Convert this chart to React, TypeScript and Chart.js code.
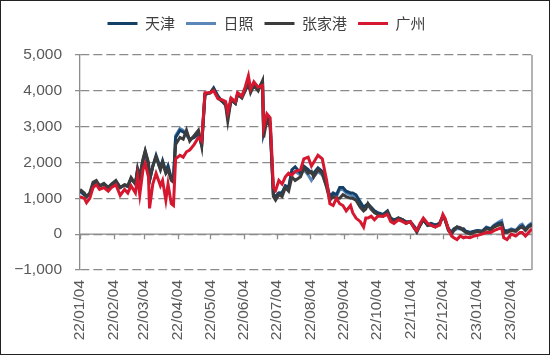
import React, { useEffect, useRef } from 'react';
import { Chart, registerables } from 'chart.js';

Chart.register(...registerables);

// x ticks: day offsets from 2022-01-04 and their labels
const tickDays = [0, 31, 59, 90, 120, 151, 181, 212, 243, 273, 304, 334, 365, 396];
const tickLabels = [
  '22/01/04', '22/02/04', '22/03/04', '22/04/04', '22/05/04', '22/06/04', '22/07/04',
  '22/08/04', '22/09/04', '22/10/04', '22/11/04', '22/12/04', '23/01/04', '23/02/04',
];
const yTicks = [-1000, 0, 1000, 2000, 3000, 4000, 5000];

const seriesNames = ['天津', '日照', '张家港', '广州'];
const seriesColors = ['#143f66', '#5a86ba', '#3c3c3c', '#d5182f'];

// day offsets (from 2022-01-04) of sampled points
const days = [
  0, 4, 6, 9, 12, 15, 18, 22, 26, 29, 33, 37, 41, 44, 47, 51, 53, 55, 58, 60,
  63, 64, 67, 70, 74, 76, 79, 81, 84, 86, 88, 92, 95, 98, 101, 105, 109, 112, 115, 120,
  123, 127, 131, 134, 136, 139, 143, 145, 149, 152, 155, 157, 160, 164, 168, 169, 172, 175, 178, 180,
  183, 186, 189, 192, 195, 198, 203, 206, 210, 213, 215, 219, 223, 227, 230, 233, 236, 239, 242, 245,
  249, 251, 254, 258, 261, 263, 265, 268, 271, 274, 279, 283, 286, 289, 293, 297, 300, 304, 308, 310,
  313, 316, 320, 323, 327, 331, 334, 336, 339, 342, 344, 347, 350, 353, 355, 359, 363, 366, 370, 374,
  378, 381, 385, 388, 390, 393, 397, 401, 405, 407, 410, 413, 416,
];

const tianjin = [
  1200, 1100, 1050, 1100, 1400, 1450, 1350, 1400, 1300, 1380, 1480, 1300, 1370, 1330, 1550, 1400, 1800, 1600, 2050, 2300,
  1950, 1500, 1900, 2200, 1850, 2050, 1750, 1900, 1550, 1500, 2700, 2900, 2850, 2800, 2650, 2700, 2800, 2500, 3900, 3950,
  4080, 3850, 3700, 3650, 3300, 3750, 3650, 3900, 3850, 4050, 4200, 4000, 4150, 4050, 4250, 2850, 3250, 3100, 1100, 1050,
  1150, 1150, 1350, 1300, 1800, 1880, 1700, 1900, 1800, 1700, 1700, 1850, 1750, 1400, 1050, 1150, 1100, 1300, 1300, 1200,
  1150, 1150, 1100, 900, 750, 800, 850, 750, 650, 600, 550, 650, 450, 400, 450, 400, 350, 350, 200, 100,
  250, 400, 250, 300, 250, 300, 500, 400, 150, 50, 150, 200, 150, 150, 80, 50, 80, 100, 80, 180,
  150, 230, 300, 320, 100, 80, 120, 100, 200, 230, 130, 230, 280,
];

const rizhao = [
  1200, 1100, 1050, 1100, 1400, 1450, 1330, 1400, 1300, 1380, 1470, 1300, 1370, 1330, 1550, 1400, 1780, 1600, 2050, 2250,
  1950, 1500, 1900, 2150, 1800, 2000, 1750, 1900, 1550, 1500, 2750, 2950, 2900, 2750, 2650, 2700, 2800, 2500, 3900, 3950,
  4050, 3850, 3700, 3650, 3300, 3750, 3650, 3900, 3850, 4000, 4200, 4000, 4150, 4050, 4250, 2850, 3250, 3100, 1100, 1050,
  1150, 1150, 1350, 1300, 1700, 1750, 1650, 1800, 1650, 1500, 1600, 1750, 1650, 1350, 1000, 1100, 1050, 1250, 1250, 1150,
  1100, 1050, 1050, 850, 700, 750, 800, 700, 600, 550, 550, 600, 400, 350, 450, 400, 320, 350, 200, 100,
  250, 400, 250, 300, 250, 300, 500, 400, 150, 50, 100, 150, 150, 100, 80, 50, 80, 100, 80, 200,
  150, 250, 330, 380, 100, 100, 150, 100, 250, 280, 150, 250, 320,
];

const zhangjiagang = [
  1250, 1150, 1050, 1150, 1450, 1500, 1350, 1420, 1300, 1400, 1500, 1300, 1380, 1350, 1580, 1400, 1830, 1600, 2100, 2330,
  2000, 1500, 1900, 2150, 1800, 2000, 1700, 1800, 1500, 1450, 2500, 2700, 2650, 2900, 2600, 2750, 2900, 2450, 3900, 3950,
  4050, 3800, 3700, 3600, 3150, 3750, 3650, 3900, 3800, 4000, 4200, 3950, 4150, 4000, 4280, 2700, 3200, 3000, 1050, 950,
  1100, 1050, 1300, 1200, 1600, 1500, 1600, 1850, 1700, 1750, 1600, 1800, 1700, 1300, 950, 1050, 1000, 1000, 1100, 1050,
  1000, 1000, 950, 750, 650, 700, 850, 700, 600, 550, 500, 620, 400, 350, 450, 400, 300, 350, 150, 50,
  250, 400, 250, 250, 200, 300, 500, 400, 100, 0, 100, 200, 180, 100, 50, 0, 50, 80, 50, 150,
  120, 200, 250, 280, 50, 50, 100, 80, 180, 200, 100, 200, 250,
];

const guangzhou = [
  1050, 1000, 880, 1000, 1300, 1380, 1250, 1300, 1200, 1300, 1380, 1080, 1250, 1150, 1350, 1150, 1600, 1100, 1800, 1970,
  1600, 720, 1400, 1700, 1350, 1500, 950, 1400, 850, 800, 2100, 2200, 2150, 2300, 2350, 2500, 2700, 2600, 3950, 3950,
  4000, 3780, 3750, 3700, 3400, 3800, 3700, 3950, 3850, 4100, 4420, 4050, 4250, 4100, 4150, 2970, 3360, 3250, 1300, 1220,
  1500, 1400, 1600, 1700, 1650, 1750, 1800, 2100, 2150, 1900, 2000, 2200, 2100, 1500, 850, 800, 1000, 850, 800, 650,
  800, 600, 450, 350, 200, 450, 450, 500, 400, 500, 500, 550, 350, 300, 400, 350, 300, 350, 150, 100,
  300, 450, 300, 250, 200, 250, 550, 440, 150, -50, -100, -150, -50, -100, -80, -100, -50, -30, 0, 50,
  50, 100, 150, 180, -100, -150, 0, -50, 50, 50, -50, 50, 150,
];

const seriesValues = [tianjin, rizhao, zhangjiagang, guangzhou];
const drawOrder = [3, 4, 2, 1];

const fmt = (v: number) => {
  const s = Math.abs(v).toLocaleString('en-US');
  return v < 0 ? '\u2212' + s : s;
};

const framePlugin = {
  id: 'frameLines',
  beforeDatasetsDraw(chart: any) {
    const { ctx, chartArea, scales } = chart;
    const x = scales.x;
    const y = scales.y;
    const y0 = y.getPixelForValue(0);
    ctx.save();
    ctx.strokeStyle = '#8c8c8c';
    ctx.lineWidth = 1.3;
    ctx.setLineDash([]);
    ctx.beginPath();
    ctx.moveTo(chartArea.left, y0);
    ctx.lineTo(chartArea.right, y0);
    x.ticks.forEach((t: any) => {
      const px = Math.round(x.getPixelForValue(t.value)) + 0.5;
      ctx.moveTo(px, y0);
      ctx.lineTo(px, y0 + 5);
    });
    ctx.moveTo(chartArea.right, chartArea.top);
    ctx.lineTo(chartArea.right, chartArea.bottom);
    ctx.stroke();
    ctx.restore();
  },
};

export default function App() {
  const ref = useRef<HTMLCanvasElement | null>(null);

  useEffect(() => {
    if (!ref.current) return;
    const chart = new Chart(ref.current, {
      type: 'line',
      data: {
        datasets: seriesNames.map((name, i) => ({
          label: name,
          data: days.map((d, j) => ({ x: d, y: seriesValues[i][j] })),
          borderColor: seriesColors[i],
          backgroundColor: seriesColors[i],
          borderWidth: 3,
          pointRadius: 0,
          tension: 0,
          order: drawOrder[i],
        })),
      },
      options: {
        animation: false,
        responsive: false,
        layout: { padding: { top: 4, right: 17, left: 0, bottom: 0 } },
        plugins: {
          tooltip: { enabled: false },
          title: {
            display: true,
            text: '',
            weight: 500,
            position: 'top',
            padding: { top: 13, bottom: 0 },
            font: { size: 1, lineHeight: 1 },
          },
          legend: {
            position: 'top',
            labels: {
              boxWidth: 30,
              boxHeight: 3,
              padding: 11,
              color: '#404040',
              font: { size: 15, family: '"Noto Sans CJK SC", "Noto Sans", sans-serif' },
              sort: (a: any, b: any) => a.datasetIndex - b.datasetIndex,
              generateLabels: (c: any) =>
                (Chart.defaults.plugins.legend.labels.generateLabels as any)(c).map((l: any) => ({
                  ...l,
                  lineWidth: 0,
                  fillStyle: seriesColors[l.datasetIndex],
                })),
            },
          },
        },
        scales: {
          x: {
            type: 'linear',
            min: 0,
            max: 416,
            afterBuildTicks: (scale: any) => {
              scale.ticks = tickDays.map((v) => ({ value: v }));
            },
            afterFit: (scale: any) => {
              scale.height = 84;
            },
            ticks: {
              autoSkip: false,
              minRotation: 90,
              maxRotation: 90,
              padding: 10,
              color: '#595959',
              font: { size: 15.5, family: '"Liberation Sans", Arial, sans-serif' },
              callback: (_v: any, i: number) => tickLabels[i],
            },
            grid: { display: false, drawTicks: false },
            border: { display: false },
          },
          y: {
            min: -1000,
            max: 5000,
            afterBuildTicks: (scale: any) => {
              scale.ticks = yTicks.map((v) => ({ value: v }));
            },
            afterFit: (scale: any) => {
              scale.width = 79;
            },
            ticks: {
              padding: 13,
              color: '#595959',
              font: { size: 15.5, family: '"Liberation Sans", Arial, sans-serif' },
              callback: (v: any) => fmt(Number(v)),
            },
            grid: {
              color: '#8a8a8a',
              lineWidth: 1.3,
              tickLength: 5,
              tickColor: '#8a8a8a',
              tickWidth: 1.2,
            },
            border: { display: true, color: '#8c8c8c', width: 1.3, dash: [9, 4] },
          },
        },
      },
      plugins: [framePlugin],
    });
    return () => chart.destroy();
  }, []);

  return (
    <div
      style={{
        position: 'absolute',
        left: 0,
        top: 0,
        width: 550,
        height: 355,
        boxSizing: 'border-box',
        border: '1px solid #222',
        background: '#fff',
      }}
    >
      <canvas ref={ref} width={548} height={353} style={{ display: 'block' }} />
    </div>
  );
}
